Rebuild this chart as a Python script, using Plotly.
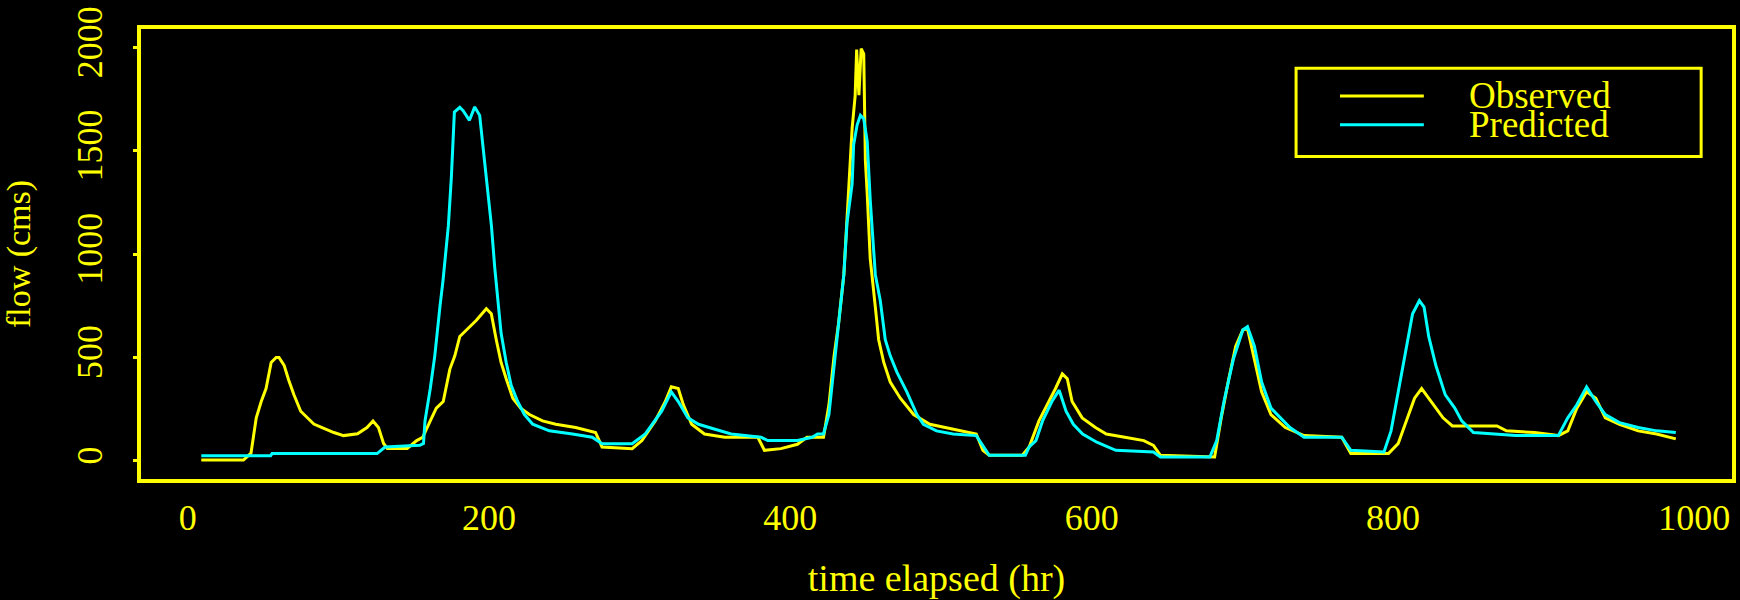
import plotly.graph_objects as go

# ---- data ----
obs_x = [9, 37, 42, 45.5, 48.8, 52, 55.4, 58.7, 60.6, 64, 67, 70.5, 75, 83.7, 89.6, 97, 103.5, 112.7, 119, 123,
         126.6, 130, 132.5, 145.7, 152, 156, 161, 165, 169.6, 174, 177.3, 180.6, 185, 191.6, 198.2, 201.5, 204.8,
         208, 211.4, 215.8, 221, 226.8, 235.5, 244.3, 257.5, 270.7, 275, 295, 301.5, 310.3, 317, 321, 325.6, 329,
         334.5, 343, 356.5, 378.4, 382.8, 393.7, 404.7, 411, 422, 425.6, 429, 432, 435.5, 438.8, 441, 443, 444,
         445.5, 447, 448.7, 449.8, 451, 453, 456.4, 458.6, 462, 466.3, 473, 481.8, 492.6, 508, 523.4, 527.8, 532,
         554, 558.5, 565, 571.7, 576, 580.5, 583.8, 587, 593.7, 602.5, 609.7, 622, 634.6, 641, 645.6, 681.6, 686,
         691, 695.6, 700.3, 703.4, 708, 712.8, 719, 728.5, 741, 766, 772, 797, 803.4, 809.6, 814.3, 819, 825.3,
         833.2, 839.4, 869, 875.3, 894, 909.7, 916, 922, 928.5, 934.6, 940.9, 950.3, 962.7, 975, 987.7]
obs_y = [4, 4, 37, 208, 287, 350, 476, 500, 500, 462, 391, 320, 240, 178, 160, 137, 122, 131, 161, 193,
         161, 84, 60, 60, 98, 114, 193, 255, 287, 444, 508, 602, 633, 680, 736, 712, 586,
         476, 397, 303, 255, 224, 193, 177, 161, 137, 67, 59, 98, 193, 287, 358, 350, 271,
         177, 130, 114, 114, 51, 59, 80, 114, 114, 271, 507, 665, 901, 1341, 1609, 1766, 1990,
         1770, 1995, 1970, 1452, 1294, 980, 744, 586, 476, 381, 303, 224, 177, 153, 130, 51, 27,
         27, 67, 193, 287, 350, 421, 397, 287, 208, 161, 130, 114, 98, 75, 27, 19, 208,
         397, 555, 633, 641, 491, 334, 224, 161, 122, 114, 35, 35, 83, 208, 303, 350, 287,
         208, 169, 169, 145, 137, 122, 145, 255, 334, 303, 208, 177, 145, 130, 106]

pred_x = [9, 55, 56, 125.7, 131, 154, 156.5, 157.5, 161, 164, 167.4, 169.4, 173, 175, 177, 180.6, 182.8, 187,
          190.5, 193.8, 197, 199.3, 201.6, 203.8, 206, 208, 211.4, 214.7, 219, 223.5, 229, 240, 255.4, 268.5,
          275, 295, 303.7, 314.6, 321, 325.6, 332, 339, 350, 360.7, 380.5, 385, 404.7, 414.5, 418, 422, 425.6,
          429, 432, 435.5, 437.6, 441, 442, 444.3, 446.5, 448.7, 451, 453, 456.4, 459.7, 463, 466.3, 470.7,
          477.3, 484, 488.3, 497, 508, 523.4, 527.8, 532, 556, 558.5, 563, 567.4, 573.6, 578.4, 583, 587.8, 594,
          603.4, 616, 641, 645.6, 678.5, 683, 687.8, 694, 700.3, 703.4, 708, 712.8, 719, 725.3, 731.6, 741, 766,
          772, 794, 798.7, 803.4, 808, 813, 817.5, 820.6, 823.7, 828.5, 834.7, 841, 845.6, 853.4, 881.5, 909.7,
          916, 922, 928.5, 934.6, 940.9, 950.3, 962.7, 975, 987.7]
pred_y = [24, 24, 35, 35, 67, 75, 84, 193, 350, 508, 745, 869, 1137, 1373, 1688, 1711, 1695, 1648,
          1713, 1672, 1452, 1294, 1137, 934, 775, 618, 476, 366, 287, 224, 177, 145, 130, 114,
          83, 83, 130, 240, 334, 287, 208, 177, 153, 130, 114, 98, 98, 114, 130, 130, 224,
          460, 665, 901, 1152, 1341, 1530, 1625, 1672, 1656, 1546, 1263, 901, 775, 586, 508, 429,
          334, 224, 177, 145, 130, 122, 75, 27, 27, 67, 98, 193, 287, 342, 240, 177, 130,
          90, 51, 43, 19, 19, 98, 287, 491, 633, 649, 555, 381, 255, 208, 161, 114, 114,
          51, 43, 145, 334, 523, 712, 775, 744, 602, 460, 319, 255, 193, 137, 122, 122,
          208, 271, 358, 287, 224, 185, 161, 145, 137]

x_ticks = [0, 200, 400, 600, 800, 1000]
y_ticks = [0, 500, 1000, 1500, 2000]
series_names = ["Observed", "Predicted"]
series_colors = ["#FFFF00", "#00FFFF"]

FONT = "Liberation Serif"
YEL = "#FFFF00"

fig = go.Figure()
fig.add_trace(go.Scatter(x=obs_x, y=obs_y, mode="lines", name=series_names[0],
                         line=dict(color=series_colors[0], width=3), showlegend=False))
fig.add_trace(go.Scatter(x=pred_x, y=pred_y, mode="lines", name=series_names[1],
                         line=dict(color=series_colors[1], width=3), showlegend=False))

fig.update_layout(
    width=1740, height=600,
    margin=dict(l=141, r=4, t=29, b=112),
    paper_bgcolor="black", plot_bgcolor="black",
    font=dict(family=FONT, color=YEL, size=36),
    xaxis=dict(range=[-31, 1025], tickvals=x_ticks, ticks="", showgrid=False, zeroline=False,
               showline=True, mirror=True, linecolor=YEL, linewidth=4,
               tickfont=dict(family=FONT, size=36, color=YEL), ticklabelstandoff=4,
               title=dict(text="time elapsed (hr)", font=dict(family=FONT, size=38, color=YEL), standoff=31)),
    yaxis=dict(range=[-88, 2090], tickvals=y_ticks, ticks="outside", ticklen=4, tickwidth=3, tickcolor=YEL,
               showgrid=False, zeroline=False, showline=True, mirror=True, linecolor=YEL, linewidth=4,
               tickangle=-90, tickfont=dict(family=FONT, size=36, color=YEL), ticklabelstandoff=17,
               title=dict(text="flow (cms)", font=dict(family=FONT, size=34, color=YEL), standoff=32)),
)

# legend box drawn in paper coordinates
fig.add_shape(type="rect", xref="paper", yref="paper", x0=0.726, x1=0.9806, y0=0.7168, y1=0.9129,
              line=dict(color=YEL, width=3), fillcolor="black", layer="above")
leg_y = [0.8512, 0.7871]
for name, col, yy in zip(series_names, series_colors, leg_y):
    fig.add_shape(type="line", xref="paper", yref="paper", x0=0.7536, x1=0.8063, y0=yy, y1=yy,
                  line=dict(color=col, width=3), layer="above")
    fig.add_annotation(xref="paper", yref="paper", x=0.8332, y=yy, text=name, showarrow=False,
                       xanchor="left", yanchor="middle", font=dict(family=FONT, size=37, color=YEL))

fig.write_html("out.html", config={"displayModeBar": False},
               post_script="document.body.style.margin='0';document.body.style.background='black';")
